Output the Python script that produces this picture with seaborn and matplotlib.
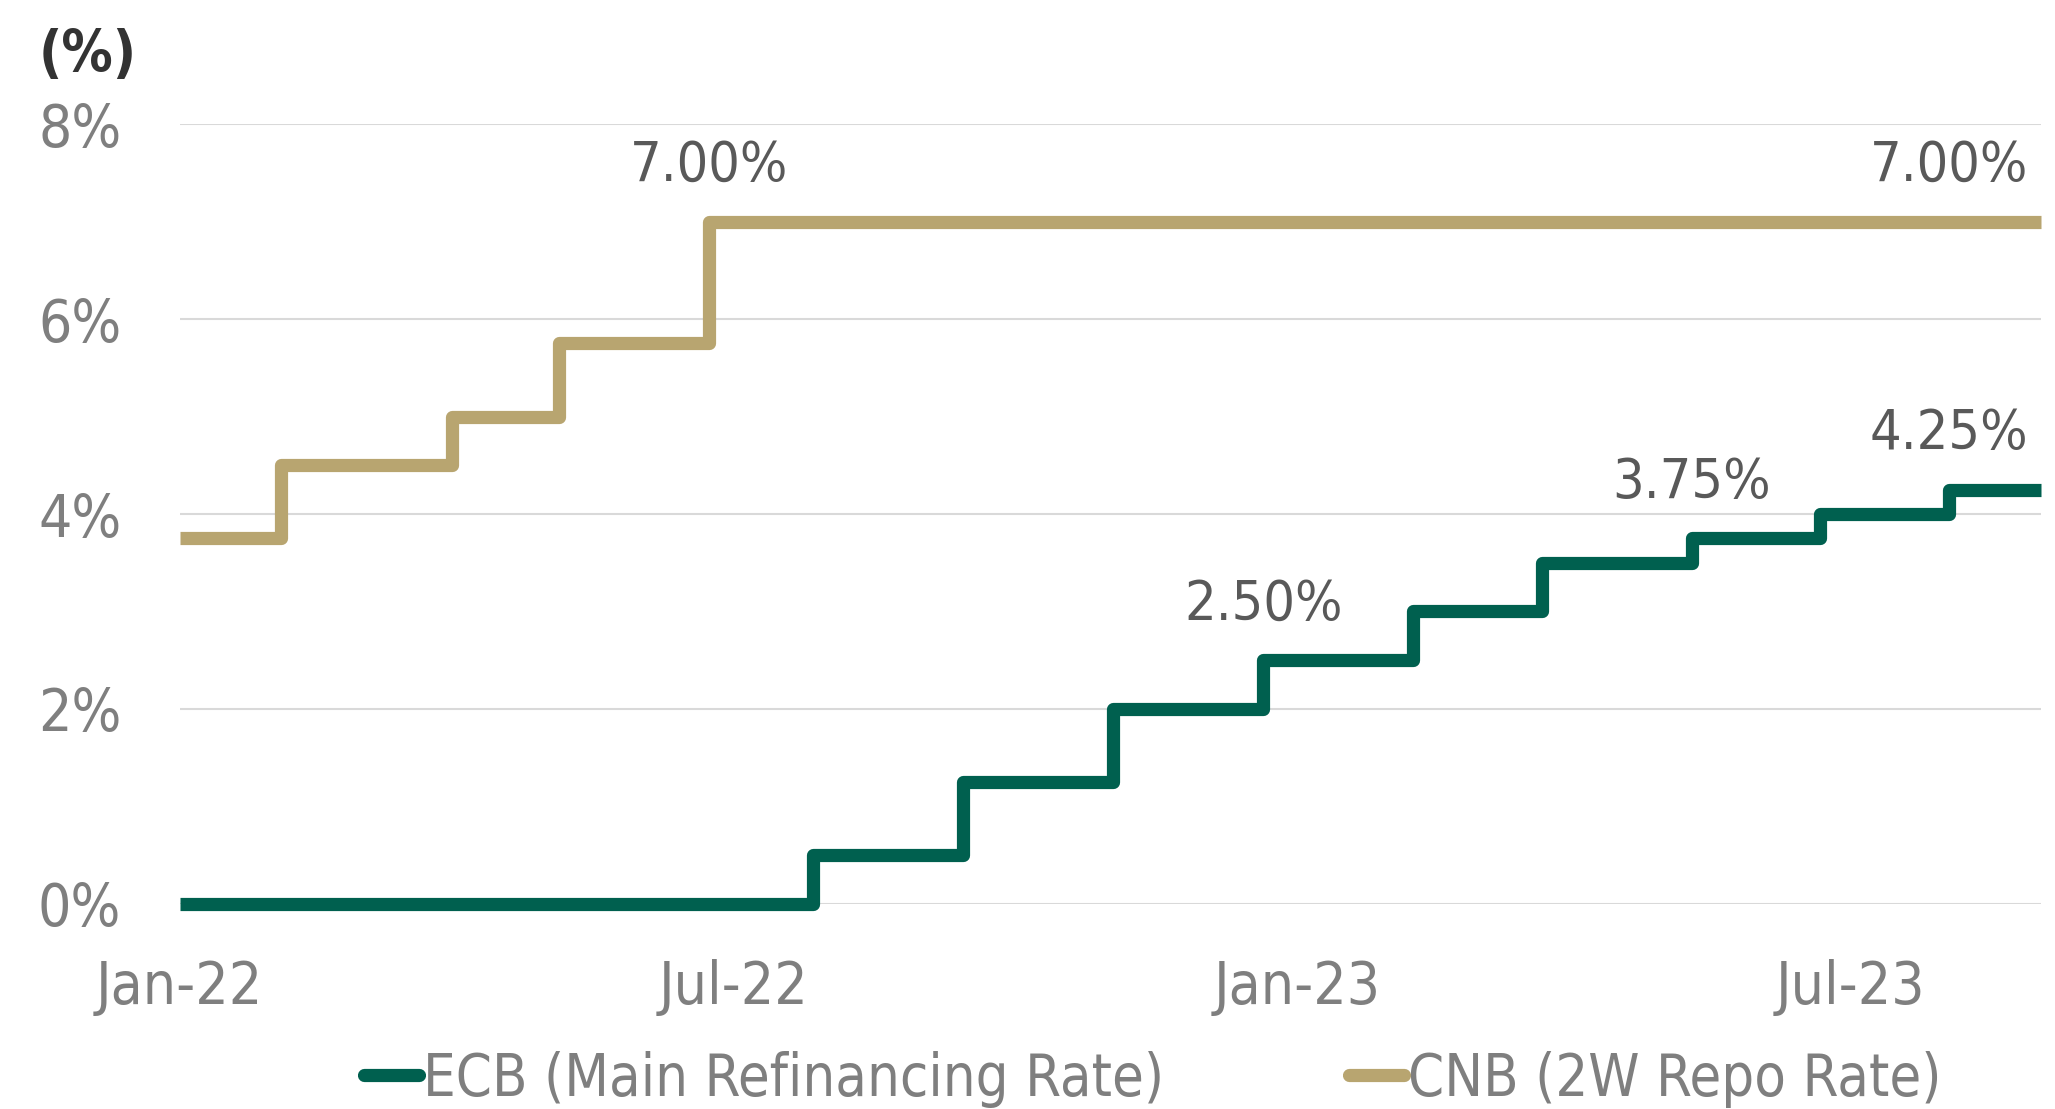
import matplotlib
matplotlib.use("Agg")
import matplotlib.pyplot as plt
import seaborn as sns
import pandas as pd
from matplotlib.lines import Line2D

ecb_dates = ["2022-01-01", "2022-07-27", "2022-09-14", "2022-11-02", "2022-12-21",
             "2023-02-08", "2023-03-22", "2023-05-10", "2023-06-21", "2023-08-02", "2023-09-01"]
ecb_values = [0.0, 0.50, 1.25, 2.00, 2.50, 3.00, 3.50, 3.75, 4.00, 4.25, 4.25]

cnb_dates = ["2022-01-01", "2022-02-03", "2022-03-31", "2022-05-05", "2022-06-23", "2023-09-01"]
cnb_values = [3.75, 4.50, 5.00, 5.75, 7.00, 7.00]

label_dates = ["2022-06-23", "2023-08-02", "2022-12-21", "2023-05-10", "2023-08-02"]
label_values = [7.00, 7.00, 2.50, 3.75, 4.25]
label_texts = ["7.00%", "7.00%", "2.50%", "3.75%", "4.25%"]

x_ticks = ["2022-01-01", "2022-07-01", "2023-01-01", "2023-07-01"]
x_tick_labels = ["Jan-22", "Jul-22", "Jan-23", "Jul-23"]
y_ticks = [0, 2, 4, 6, 8]

ecb_name = "ECB (Main Refinancing Rate)"
cnb_name = "CNB (2W Repo Rate)"
ecb_color = "#00604F"
cnb_color = "#B8A570"

sns.set_theme(style="white")
plt.rcParams["font.family"] = ["DejaVu Sans"]
plt.rcParams["font.stretch"] = "condensed"

fig = plt.figure(figsize=(20.55, 11.09), dpi=100)
ax = fig.add_axes([0.0874, 0.185, 0.9056, 0.703])

ecb_df = pd.DataFrame({"date": pd.to_datetime(ecb_dates), "rate": ecb_values})
cnb_df = pd.DataFrame({"date": pd.to_datetime(cnb_dates), "rate": cnb_values})

sns.lineplot(data=cnb_df, x="date", y="rate", ax=ax, color=cnb_color, lw=9.5,
             drawstyle="steps-post", estimator=None, clip_on=False,
             solid_joinstyle="round", solid_capstyle="butt", zorder=3)
sns.lineplot(data=ecb_df, x="date", y="rate", ax=ax, color=ecb_color, lw=9.5,
             drawstyle="steps-post", estimator=None, clip_on=False,
             solid_joinstyle="round", solid_capstyle="butt", zorder=4)

ax.set_xlim(pd.Timestamp("2022-01-01"), pd.Timestamp("2023-09-01"))
ax.set_ylim(0, 8)
ax.set_yticks(y_ticks)
ax.set_yticklabels([f"{v}%" for v in y_ticks])
ax.set_xticks(pd.to_datetime(x_ticks))
ax.set_xticklabels(x_tick_labels)
ax.set_xlabel("")
ax.set_ylabel("")
ax.grid(axis="y", color="#D9D9D9", lw=1.5)
ax.grid(axis="x", visible=False)
for s in ax.spines.values():
    s.set_visible(False)
ax.tick_params(axis="y", length=0, pad=42, labelsize=42, labelcolor="#7F7F7F")
ax.tick_params(axis="x", length=0, pad=40, labelsize=42, labelcolor="#7F7F7F")

for d, v, t in zip(label_dates, label_values, label_texts):
    ax.annotate(t, xy=(pd.Timestamp(d), v), xytext=(0, 40), textcoords="offset points",
                ha="center", va="center", fontsize=40, color="#595959", zorder=5)

fig.text(0.019, 0.950, "(%)", fontsize=41, fontweight="bold", color="#333333",
         ha="left", va="center")

handles = [Line2D([0], [0], color=ecb_color, lw=9.5, solid_capstyle="round"),
           Line2D([0], [0], color=cnb_color, lw=9.5, solid_capstyle="round")]
fig.legend(handles, [ecb_name, cnb_name], loc="center", bbox_to_anchor=(0.561, 0.027),
           ncol=2, frameon=False, fontsize=41.5, labelcolor="#7F7F7F",
           handlelength=0.95, handletextpad=0.08, columnspacing=3.2)

fig.savefig("out.png", dpi=100)
